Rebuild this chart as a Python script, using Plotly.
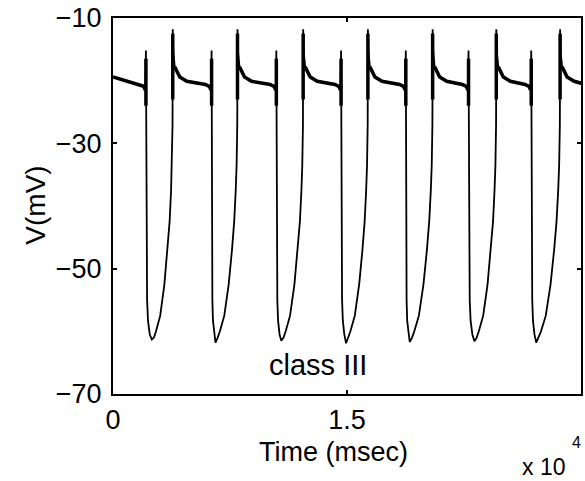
import plotly.graph_objects as go

# ---- data (time in ms, voltage in mV) ----
rise_t = [3830, 7980, 12190, 16340, 20490, 24570, 28660]   # burst onsets
end_t = [2110, 6320, 10470, 14620, 18770, 22790, 26810]    # burst terminations
min_t = [2490, 6570, 10790, 14940, 19020, 23170, 27130]    # troughs
min_v = [-61.3, -61.8, -61.5, -61.9, -61.7, -61.6, -61.8]

start_v = -19.4
final_t = [30000, 30600]
final_v = [-20.4, -20.5]

# rising branch: fraction of trough->onset interval, voltage
rise_frac = [0.1, 0.2, 0.4, 0.6, 0.75, 0.85, 0.92, 0.96, 0.99]
rise_v = [-61.0, -60.0, -57.5, -52.5, -47.0, -42.5, -37.5, -33.5, -27.0]
spike_top = -11.8
# decay after onset: ms after onset, voltage
decay_dt = [40, 130, 450, 900]
decay_v = [-15.5, -17.8, -19.4, -20.1]
# end of plateau: ms relative to termination, voltage
plat_dt = [-400, -150, -40, 0]
plat_v = [-20.6, -20.9, -21.5, -15.2]
# fall: fraction of termination->trough interval, voltage
fall_frac = [0.05, 0.2, 0.35, 0.65]
fall_v = [-35.0, -55.0, -58.3, -60.5]

# ---- build trace from the read values ----
t, v = [0], [start_v]
tb, vb = [0], [start_v]   # thick plateau overlay (fast oscillation band)


def add_end(k):
    te = end_t[k]
    for dt, vv in zip(plat_dt, plat_v):
        t.append(te + dt); v.append(vv)
    for dt, vv in zip(plat_dt[:-1], plat_v[:-1]):
        tb.append(te + dt); vb.append(vv)
    tb.extend([None, te, te, None]); vb.extend([None, -16.5, -24.0, None])
    for f, vv in zip(fall_frac, fall_v):
        t.append(te + f * (min_t[k] - te)); v.append(vv)
    t.append(min_t[k]); v.append(min_v[k])
    for f, vv in zip(rise_frac, rise_v):
        t.append(min_t[k] + f * (rise_t[k] - min_t[k])); v.append(vv)
    tr = rise_t[k]
    t.append(tr); v.append(spike_top)
    tb.extend([tr, tr, None]); vb.extend([-12.5, -23.0, None])
    for dt, vv in zip(decay_dt, decay_v):
        t.append(tr + dt); v.append(vv)
    for dt, vv in zip(decay_dt[1:], decay_v[1:]):
        tb.append(tr + dt); vb.append(vv)


for k in range(len(end_t)):
    add_end(k)
t.extend(final_t); v.extend(final_v)
tb.extend(final_t); vb.extend(final_v)

fig = go.Figure()
fig.add_trace(go.Scatter(x=t, y=v, mode="lines",
                         line=dict(color="black", width=1.8), hoverinfo="skip"))
fig.add_trace(go.Scatter(x=tb, y=vb, mode="lines", connectgaps=False,
                         line=dict(color="black", width=3.5), hoverinfo="skip"))

font_family = "Liberation Sans, Arial, Helvetica, sans-serif"
axis_common = dict(showline=True, linecolor="black", linewidth=2, mirror="ticks",
                   ticks="inside", ticklen=4, tickwidth=1.5, tickcolor="black",
                   showgrid=False, zeroline=False,
                   tickfont=dict(family=font_family, size=27, color="black"))

fig.update_layout(
    width=585, height=481,
    margin=dict(l=113, r=2, t=18, b=87),
    paper_bgcolor="white", plot_bgcolor="white",
    showlegend=False,
    font=dict(family=font_family, color="black"),
    xaxis=dict(range=[0, 30000], tickvals=[0, 15000, 30000],
               ticktext=["0", "1.5", "3"], ticklabelstandoff=1, **axis_common),
    yaxis=dict(range=[-70, -10], tickvals=[-10, -30, -50, -70],
               ticktext=["\u221210", "\u221230", "\u221250", "\u221270"],
               ticklabelstandoff=4, **axis_common),
    annotations=[
        dict(text="V(mV)", x=-0.165, y=0.503, xref="paper", yref="paper",
             textangle=-90, showarrow=False, font=dict(size=28),
             xanchor="center", yanchor="middle"),
        dict(text="Time (msec)", x=0.472, y=-0.155, xref="paper", yref="paper",
             showarrow=False, font=dict(size=27), xanchor="center", yanchor="middle"),
        dict(text="x 10", x=0.92, y=-0.194, xref="paper", yref="paper",
             showarrow=False, font=dict(size=23), xanchor="center", yanchor="middle"),
        dict(text="4", x=0.99, y=-0.13, xref="paper", yref="paper",
             showarrow=False, font=dict(size=16), xanchor="center", yanchor="middle"),
        dict(text="class III", x=13150, y=-65.4, xref="x", yref="y",
             showarrow=False, font=dict(size=29), xanchor="center", yanchor="middle"),
    ],
)

fig.write_html("out.html")
